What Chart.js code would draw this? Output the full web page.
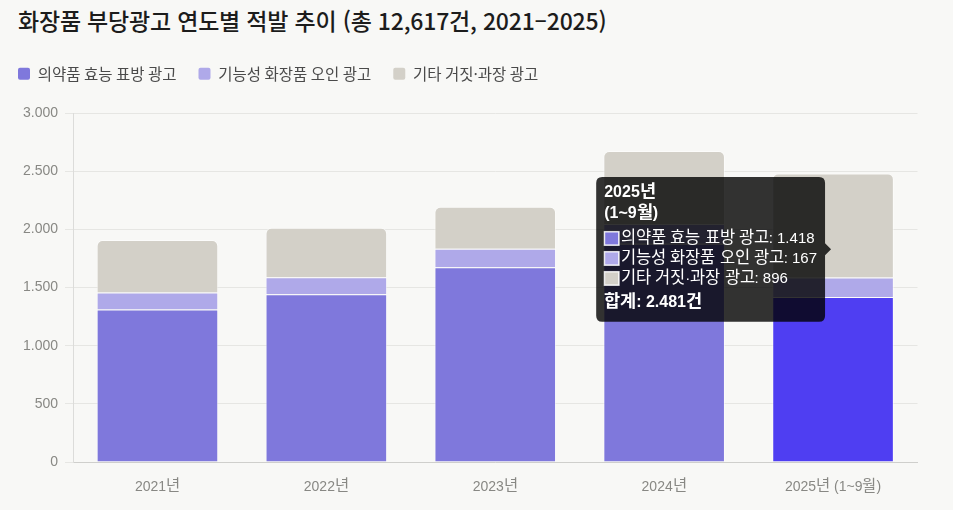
<!DOCTYPE html>
<html lang="ko">
<head>
<meta charset="utf-8">
<script src="https://cdn.jsdelivr.net/npm/chart.js@4.4.1/dist/chart.umd.min.js"></script>
<style>
  @font-face { font-family: 'KRwide'; font-weight: 400; size-adjust: 110%;
    src: local('Noto Sans CJK KR'), local('Noto Sans CJK KR Regular'), local('NotoSansCJKkr-Regular');
    unicode-range: U+AC00-D7AF, U+1100-11FF, U+3130-318F; }
  @font-face { font-family: 'KRwide'; font-weight: 700; size-adjust: 110%;
    src: local('Noto Sans CJK KR Bold'), local('NotoSansCJKkr-Bold');
    unicode-range: U+AC00-D7AF, U+1100-11FF, U+3130-318F; }
  html, body { margin: 0; padding: 0; background: #f8f8f6; }
  body { width: 953px; height: 510px; position: relative; overflow: hidden; }
  #title { position: absolute; left: 18px; top: 3px; font-family: "Noto Sans CJK KR", "Noto Sans", sans-serif; font-size: 23px; font-weight: 500; color: #1c1c1c; letter-spacing: -0.2px; white-space: nowrap; }
  #c { position: absolute; left: -4px; top: 44px; display: block; }
</style>
</head>
<body>
<div id="title">화장품 부당광고 연도별 적발 추이 (총 12,617건, 2021–2025)</div>
<canvas id="c" width="957" height="466"></canvas>
<script>
// ---- data ----
const categories = ['2021년', '2022년', '2023년', '2024년', '2025년 (1~9월)'];
const seriesNames = ['의약품 효능 표방 광고', '기능성 화장품 오인 광고', '기타 거짓·과장 광고'];
const drugClaims = [1311, 1443, 1674, 1876, 1418];
const functionalMislead = [146, 146, 160, 170, 167];
const otherFalse = [452, 425, 360, 628, 896];
const yTicks = [0, 500, 1000, 1500, 2000, 2500, 3000];

const colors = ['#7f78dc', '#afa9e9', '#d3d0c8'];
const fmt = v => Number(v).toLocaleString('de-DE');
const FAM = "'Liberation Sans', Arial, KRwide, 'Noto Sans CJK KR', sans-serif";

const legendSpacer = {
  id: 'legendSpacer',
  beforeLayout(chart) {
    const lg = chart.legend;
    if (lg && !lg._spaced) {
      const f = lg.fit;
      lg.fit = function () { f.call(this); this.height += 21.5; };
      lg._spaced = true;
    }
  }
};

function build() {
  const tickFont = { family: FAM, size: 14 };
  const chart = new Chart(document.getElementById('c'), {
    type: 'bar',
    data: {
      labels: categories,
      datasets: [
        { label: seriesNames[0], data: drugClaims, backgroundColor: colors[0], hoverBackgroundColor: '#4f3ef2',
          borderColor: 'rgba(255,255,255,0.55)', hoverBorderColor: 'rgba(255,255,255,0.55)', borderWidth: 1 },
        { label: seriesNames[1], data: functionalMislead, backgroundColor: colors[1], hoverBackgroundColor: colors[1],
          borderColor: 'rgba(255,255,255,0.55)', hoverBorderColor: 'rgba(255,255,255,0.55)', borderWidth: 1 },
        { label: seriesNames[2], data: otherFalse, backgroundColor: colors[2], hoverBackgroundColor: colors[2],
          borderColor: 'rgba(255,255,255,0.55)', hoverBorderColor: 'rgba(255,255,255,0.55)', borderWidth: 1,
          borderRadius: { topLeft: 6, topRight: 6, bottomLeft: 0, bottomRight: 0 } }
      ]
    },
    plugins: [legendSpacer],
    options: {
      responsive: false,
      animation: false,
      events: [],
      layout: { padding: { left: 0, right: 35.5, top: 0, bottom: -2 } },
      datasets: { bar: { categoryPercentage: 0.8, barPercentage: 0.9 } },
      scales: {
        x: {
          stacked: true,
          grid: { display: false, drawTicks: false },
          border: { display: true, color: '#cfcfcc', width: 1 },
          ticks: { font: tickFont, color: '#888884', padding: 16.6 }
        },
        y: {
          stacked: true,
          min: 0, max: 3000,
          afterBuildTicks: s => { s.ticks = yTicks.map(v => ({ value: v })); },
          afterFit: s => { s.width = 77; },
          grid: { color: '#e6e6e3', tickLength: 8 },
          border: { display: true, color: '#dcdcda' },
          ticks: { font: tickFont, color: '#888884', padding: 7, callback: v => fmt(v) }
        }
      },
      plugins: {
        legend: {
          position: 'top',
          align: 'start',
          labels: {
            boxWidth: 12, boxHeight: 12, padding: 22,
            color: '#4a4a4a',
            font: { family: "'Noto Sans CJK KR', 'Noto Sans', sans-serif", size: 15.5 },
            generateLabels: ch => Chart.defaults.plugins.legend.labels.generateLabels(ch)
              .map((l, i) => Object.assign(l, { fillStyle: colors[i], lineWidth: 0, strokeStyle: 'transparent', borderRadius: 2 })),
            useBorderRadius: true, borderRadius: 2
          }
        },
        tooltip: {
          mode: 'index', intersect: false,
          backgroundColor: 'rgba(0,0,0,0.8)',
          titleColor: '#fff', bodyColor: '#fff', footerColor: '#fff',
          titleFont: { family: FAM, size: 16, weight: 'bold' },
          bodyFont: { family: FAM, size: 15 },
          footerFont: { family: FAM, size: 16, weight: 'bold' },
          titleSpacing: 2, titleMarginBottom: 6, bodySpacing: 2, footerMarginTop: 6,
          padding: { top: 6, bottom: 9, left: 8, right: 8 },
          cornerRadius: 6, caretSize: 6,
          boxWidth: 15, boxHeight: 14, boxPadding: 0,
          callbacks: {
            title: items => {
              const l = items[0].label; const i = l.indexOf(' (');
              return i > 0 ? [l.slice(0, i), l.slice(i + 1)] : l;
            },
            label: it => `${it.dataset.label}: ${fmt(it.raw)}`,
            labelColor: it => ({ borderColor: 'rgba(255,255,255,0.7)', backgroundColor: colors[it.datasetIndex], borderWidth: 1 }),
            footer: items => `합계: ${fmt(items.reduce((s, it) => s + it.raw, 0))}건`
          }
        }
      }
    }
  });

  chart.setActiveElements([{ datasetIndex: 0, index: 4 }]);
  chart.tooltip.setActiveElements([
    { datasetIndex: 0, index: 4 }, { datasetIndex: 1, index: 4 }, { datasetIndex: 2, index: 4 }
  ], { x: 833, y: 250 });
  chart.update();
}

Promise.all([
  document.fonts.load('15px KRwide', '가'),
  document.fonts.load('700 16px KRwide', '가')
]).catch(() => {}).then(build);
</script>
</body>
</html>
